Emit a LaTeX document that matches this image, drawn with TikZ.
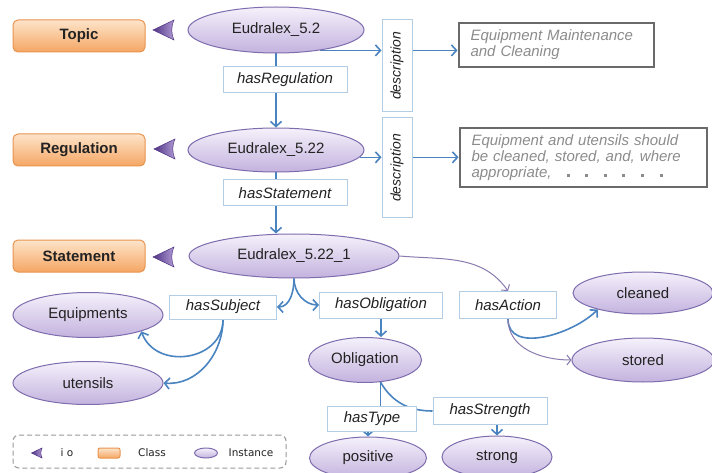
\documentclass[tikz,border=0pt]{standalone}
\usepackage{fontspec}
\setmainfont{Liberation Sans}
\newfontfamily\legendfont{DejaVu Sans}
\usetikzlibrary{arrows.meta,shapes.geometric,calc}

\definecolor{edgeblue}{HTML}{4A84C0}
\definecolor{edgepurple}{HTML}{8A7BAE}
\definecolor{lblborder}{HTML}{B4CDE6}
\definecolor{instTop}{HTML}{F5F1FB}
\definecolor{instBot}{HTML}{C3B2DE}
\definecolor{instBorder}{HTML}{7E6DAE}
\definecolor{clsTop}{HTML}{FDE4CA}
\definecolor{clsBot}{HTML}{F5A663}
\definecolor{clsBorder}{HTML}{E8944E}
\definecolor{ioDark}{HTML}{4F3384}
\definecolor{ioLight}{HTML}{B09AD4}
\definecolor{descBorder}{HTML}{6A6A6A}
\definecolor{descText}{HTML}{8C8C8C}
\definecolor{txt}{HTML}{222222}

\pgfdeclarelayer{bg}
\pgfdeclarelayer{edges}
\pgfsetlayers{bg,edges,main}

\tikzset{
  inst/.style n args={2}{ellipse, draw=instBorder, line width=1pt,
    top color=instTop, bottom color=instBot, minimum width=#1,
    minimum height=#2, inner sep=0pt, text=txt,
    font=\fontsize{15}{17}\selectfont},
  classbox/.style={rounded corners=5pt, draw=clsBorder, line width=1pt,
    top color=clsTop, bottom color=clsBot, minimum width=132pt,
    minimum height=32pt, inner sep=0pt, text=txt,
    font=\bfseries\fontsize{15}{17}\selectfont},
  prop/.style={draw=lblborder, line width=1pt, fill=white,
    minimum height=26pt, inner sep=0pt, text=txt,
    font=\itshape\fontsize{15}{17}\selectfont},
  propv/.style={draw=lblborder, line width=1pt, fill=white,
    minimum width=30pt, inner sep=0pt, text=txt,
    font=\itshape\fontsize{14}{16}\selectfont},
  desc/.style={draw=descBorder, line width=2pt, fill=white,
    inner xsep=12pt, inner ysep=0pt, align=left, text=descText,
    font=\itshape\fontsize{15}{16}\selectfont},
  edge/.style={draw=edgeblue, line width=1.6pt,
    -{Straight Barb[length=5pt,width=11pt]}},
  thinedge/.style={draw=edgepurple, line width=1pt,
    -{Straight Barb[length=4pt,width=10pt]}},
  plainedge/.style={draw=edgeblue, line width=1.6pt},
  legendtext/.style={inner sep=0pt, text=txt,
    font=\legendfont\fontsize{10.5}{12}\selectfont},
  iomark/.pic={
    \shadedraw[left color=ioDark, right color=ioLight, draw=ioDark,
      line width=0.5pt]
      (-11,0) -- (10,10) .. controls (7,3) and (7,-3) .. (10,-10) -- cycle;
  }
}

\newcommand{\sq}{\raisebox{1pt}{\rule{3pt}{3pt}}}

\begin{document}
\begin{tikzpicture}[x=1pt,y=1pt]
\useasboundingbox (0,0) rectangle (712,-473);
\begin{pgfonlayer}{bg}
  \fill[white] (0,0) rectangle (712,-473);
\end{pgfonlayer}

% classes
\node[classbox] (cTopic) at (79,-36) {Topic};
\node[classbox] (cReg) at (79,-150) {Regulation};
\node[classbox] (cStmt) at (79,-256) {Statement};

% instance-of markers
\pic at (164,-30) {iomark};
\pic at (165,-149) {iomark};
\pic at (164,-257) {iomark};

% instances
\node[inst={176pt}{46pt}] (e52) at (276,-30) {Eudralex\_5.2};
\node[inst={176pt}{44pt}] (e522) at (276,-150) {Eudralex\_5.22};
\node[inst={210pt}{44pt}] (e5221) at (294,-256) {Eudralex\_5.22\_1};
\node[inst={150pt}{45pt}] (equip) at (88,-315) {Equipments};
\node[inst={150pt}{43pt}] (utens) at (88,-383) {utensils};
\node[inst={113pt}{45pt}] (obl) at (365,-360) {Obligation};
\node[inst={140pt}{42pt}] (clean) at (643,-293) {cleaned};
\node[inst={142pt}{44pt}] (store) at (643,-360) {stored};
\node[inst={117pt}{42pt}] (pos) at (368,-458) {positive};
\node[inst={110pt}{42pt}] (strong) at (497,-457) {strong};

% property labels
\node[prop, minimum width=124pt] (hReg) at (285,-80) {hasRegulation};
\node[prop, minimum width=124pt] (hStmt) at (285,-193) {hasStatement};
\node[propv, minimum height=92pt] (d1) at (397,-66) {\rotatebox{90}{description}};
\node[propv, minimum height=100pt] (d2) at (397,-168) {\rotatebox{90}{description}};
\node[prop, minimum width=107pt, minimum height=24pt] (hSubj) at (223,-307) {hasSubject};
\node[prop, minimum width=123pt] (hObl) at (381,-305) {hasObligation};
\node[prop, minimum width=97pt, minimum height=27pt] (hAct) at (508,-305) {hasAction};
\node[prop, minimum width=89pt, minimum height=25pt] (hType) at (372,-419) {hasType};
\node[prop, minimum width=114pt, minimum height=27pt] (hStr) at (490,-411) {hasStrength};

% literal values
\node[desc, text width=171pt, minimum height=44pt] (t1) at (556,-45)
  {Equipment Maintenance\\and Cleaning};
\node[desc, text width=223pt, minimum height=59pt] (t2) at (583,-158)
  {Equipment and utensils should\\be cleaned, stored, and, where\\appropriate,\hspace{15pt}\sq\hspace{15.6pt}\sq\hspace{15.6pt}\sq\hspace{15.6pt}\sq\hspace{15.6pt}\sq\hspace{15.6pt}\sq};

% connectors
\begin{pgfonlayer}{edges}
  \draw[edge] (e52.south) -- (e522.north);
  \draw[edge] (e52.-25) -- (e52.-25 -| d1.west);
  \draw[edge] (d1.east |- e52.-25) -- (t1.west |- e52.-25);
  \draw[edge] (e522.-5) -- (e522.-5 -| d2.west);
  \draw[edge] (d2.east |- e522.-5) -- (t2.west |- e522.-5);
  \draw[edge] (e522.south) -- (e522.south |- e5221.north);
  \draw[edge] (e5221.south) to[out=-90,in=0] (hSubj.east);
  \draw[edge] (e5221.south) to[out=-90,in=180] (hObl.west);
  \draw[edge] (hSubj.south) to[out=-90,in=-70,looseness=1.3] (equip.-17);
  \draw[edge] (hSubj.south) to[out=-90,in=-5] (utens.east);
  \draw[edge] (hObl.south) -- (hObl.south |- obl.north);
  \draw[thinedge] (e5221.east) to[out=-5,in=125] (hAct.north);
  \draw[edge] (hAct.south) to[out=-90,in=-135] (clean.200);
  \draw[thinedge] (hAct.south) to[out=-90,in=180] (store.west);
  \draw[plainedge] (obl.-55) -- (obl.-55 |- hType.north);
  \draw[plainedge] (obl.-55) to[out=-60,in=180] (hStr.west);
  \draw[edge] (pos.north |- hType.south) -- (pos.north);
  \draw[edge] (strong.north |- hStr.south) -- (strong.north);
\end{pgfonlayer}

% legend
\node[draw=gray!80, line width=1pt, dash pattern=on 5pt off 3pt,
  rounded corners=6pt, minimum width=273pt, minimum height=33pt]
  (legend) at (149.5,-451.5) {};
\pic[scale=0.5] at (37,-453) {iomark};
\node[legendtext] (lio) at (67,-453) {i o};
\node[classbox, minimum width=22pt, minimum height=10pt, rounded corners=2pt] (lcls) at (109,-453) {};
\node[legendtext] (lclass) at (152,-453) {Class};
\node[inst={23pt}{10pt}] (linst) at (206,-453) {};
\node[legendtext] (linstance) at (251,-453) {Instance};
\end{tikzpicture}
\end{document}
